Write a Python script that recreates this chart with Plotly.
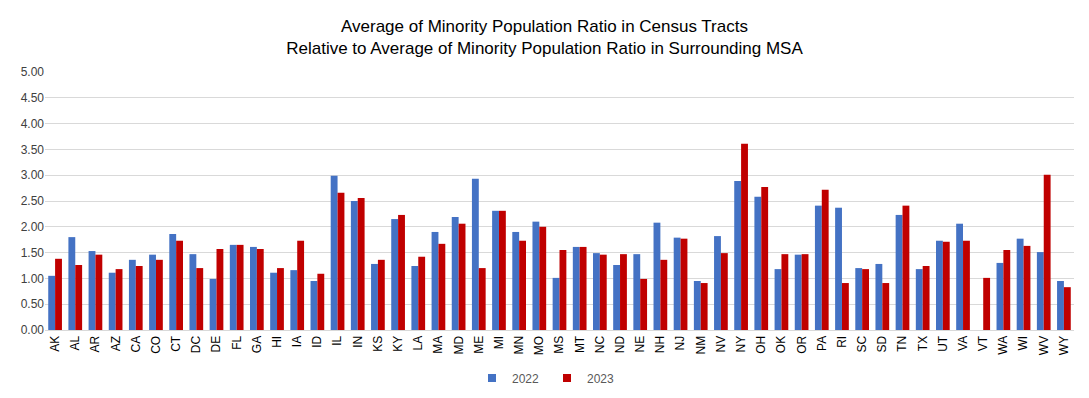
import plotly.graph_objects as go

states = ["AK","AL","AR","AZ","CA","CO","CT","DC","DE","FL","GA","HI","IA","ID","IL","IN","KS","KY","LA","MA",
          "MD","ME","MI","MN","MO","MS","MT","NC","ND","NE","NH","NJ","NM","NV","NY","OH","OK","OR","PA","RI",
          "SC","SD","TN","TX","UT","VA","VT","WA","WI","WV","WY"]
v2022 = [1.05,1.80,1.53,1.11,1.36,1.46,1.86,1.47,0.99,1.65,1.61,1.11,1.16,0.95,2.99,2.50,1.28,2.15,1.24,1.90,
         2.19,2.93,2.31,1.90,2.10,1.01,1.61,1.49,1.26,1.47,2.08,1.79,0.95,1.82,2.89,2.58,1.18,1.46,2.41,2.37,
         1.20,1.28,2.23,1.18,1.73,2.06,None,1.30,1.77,1.51,0.95]
v2023 = [1.38,1.26,1.46,1.18,1.24,1.36,1.73,1.20,1.57,1.65,1.57,1.20,1.73,1.09,2.66,2.56,1.36,2.23,1.42,1.67,
         2.06,1.20,2.31,1.73,2.00,1.55,1.61,1.46,1.47,0.99,1.36,1.77,0.91,1.49,3.61,2.77,1.47,1.47,2.72,0.91,
         1.18,0.91,2.41,1.24,1.71,1.73,1.01,1.55,1.63,3.01,0.83]
years = ["2022", "2023"]
colors = ["#4472C4", "#C00000"]

fig = go.Figure()
for name, vals, col in zip(years, [v2022, v2023], colors):
    fig.add_trace(go.Bar(x=states, y=vals, name=name, showlegend=False,
                         marker=dict(color=col, line=dict(width=0))))
for name, col in zip(years, colors):
    fig.add_trace(go.Scatter(x=[None], y=[None], mode="markers", name=name,
                             marker=dict(symbol="square", size=8, color=col)))

# page has an 8px body margin; figure is placed at (8, 8)
OFF = 8
W, H = 1089 - 2 * OFF, 398 - 2 * OFF
L, R, T, B = 45 - OFF, 1089 - 1074 - OFF, 72 - OFF, 398 - 330 - OFF

fig.update_layout(
    width=W, height=H,
    margin=dict(l=L, r=R, t=T, b=B, autoexpand=False),
    paper_bgcolor="white", plot_bgcolor="white",
    barmode="group", bargap=0.32, bargroupgap=0,
    title=dict(
        text="Average of Minority Population Ratio in Census Tracts<br>Relative to Average of Minority Population Ratio in Surrounding MSA",
        x=(544.5 - OFF) / W, xanchor="center", xref="container",
        y=1 - (32 - OFF) / H, yanchor="middle", yref="container",
        font=dict(family="Liberation Sans Narrow, Arial Narrow, Liberation Sans, sans-serif", size=17, color="#000000"),
    ),
    xaxis=dict(
        tickangle=-90, tickfont=dict(family="Liberation Sans, Arial, sans-serif", size=12, color="#000000"),
        showline=True, linecolor="#D9D9D9", linewidth=1, ticks="", showgrid=False, automargin=False,
    ),
    yaxis=dict(
        range=[0, 5], dtick=0.5, tickformat=".2f",
        tickfont=dict(family="Liberation Sans, Arial, sans-serif", size=12, color="#404040"),
        showgrid=True, gridcolor="#D9D9D9", gridwidth=1, zeroline=False, showline=False, ticks="",
        automargin=False,
    ),
    legend=dict(
        orientation="h", x=(547 - OFF) / W, xanchor="center", xref="container",
        yref="container", y=1 - (378 - OFF) / H, yanchor="middle",
        font=dict(family="Liberation Sans, Arial, sans-serif", size=12, color="#595959"),
        itemwidth=30, traceorder="normal", entrywidth=30, entrywidthmode="pixels",
    ),
)

fig.write_html("out.html")
